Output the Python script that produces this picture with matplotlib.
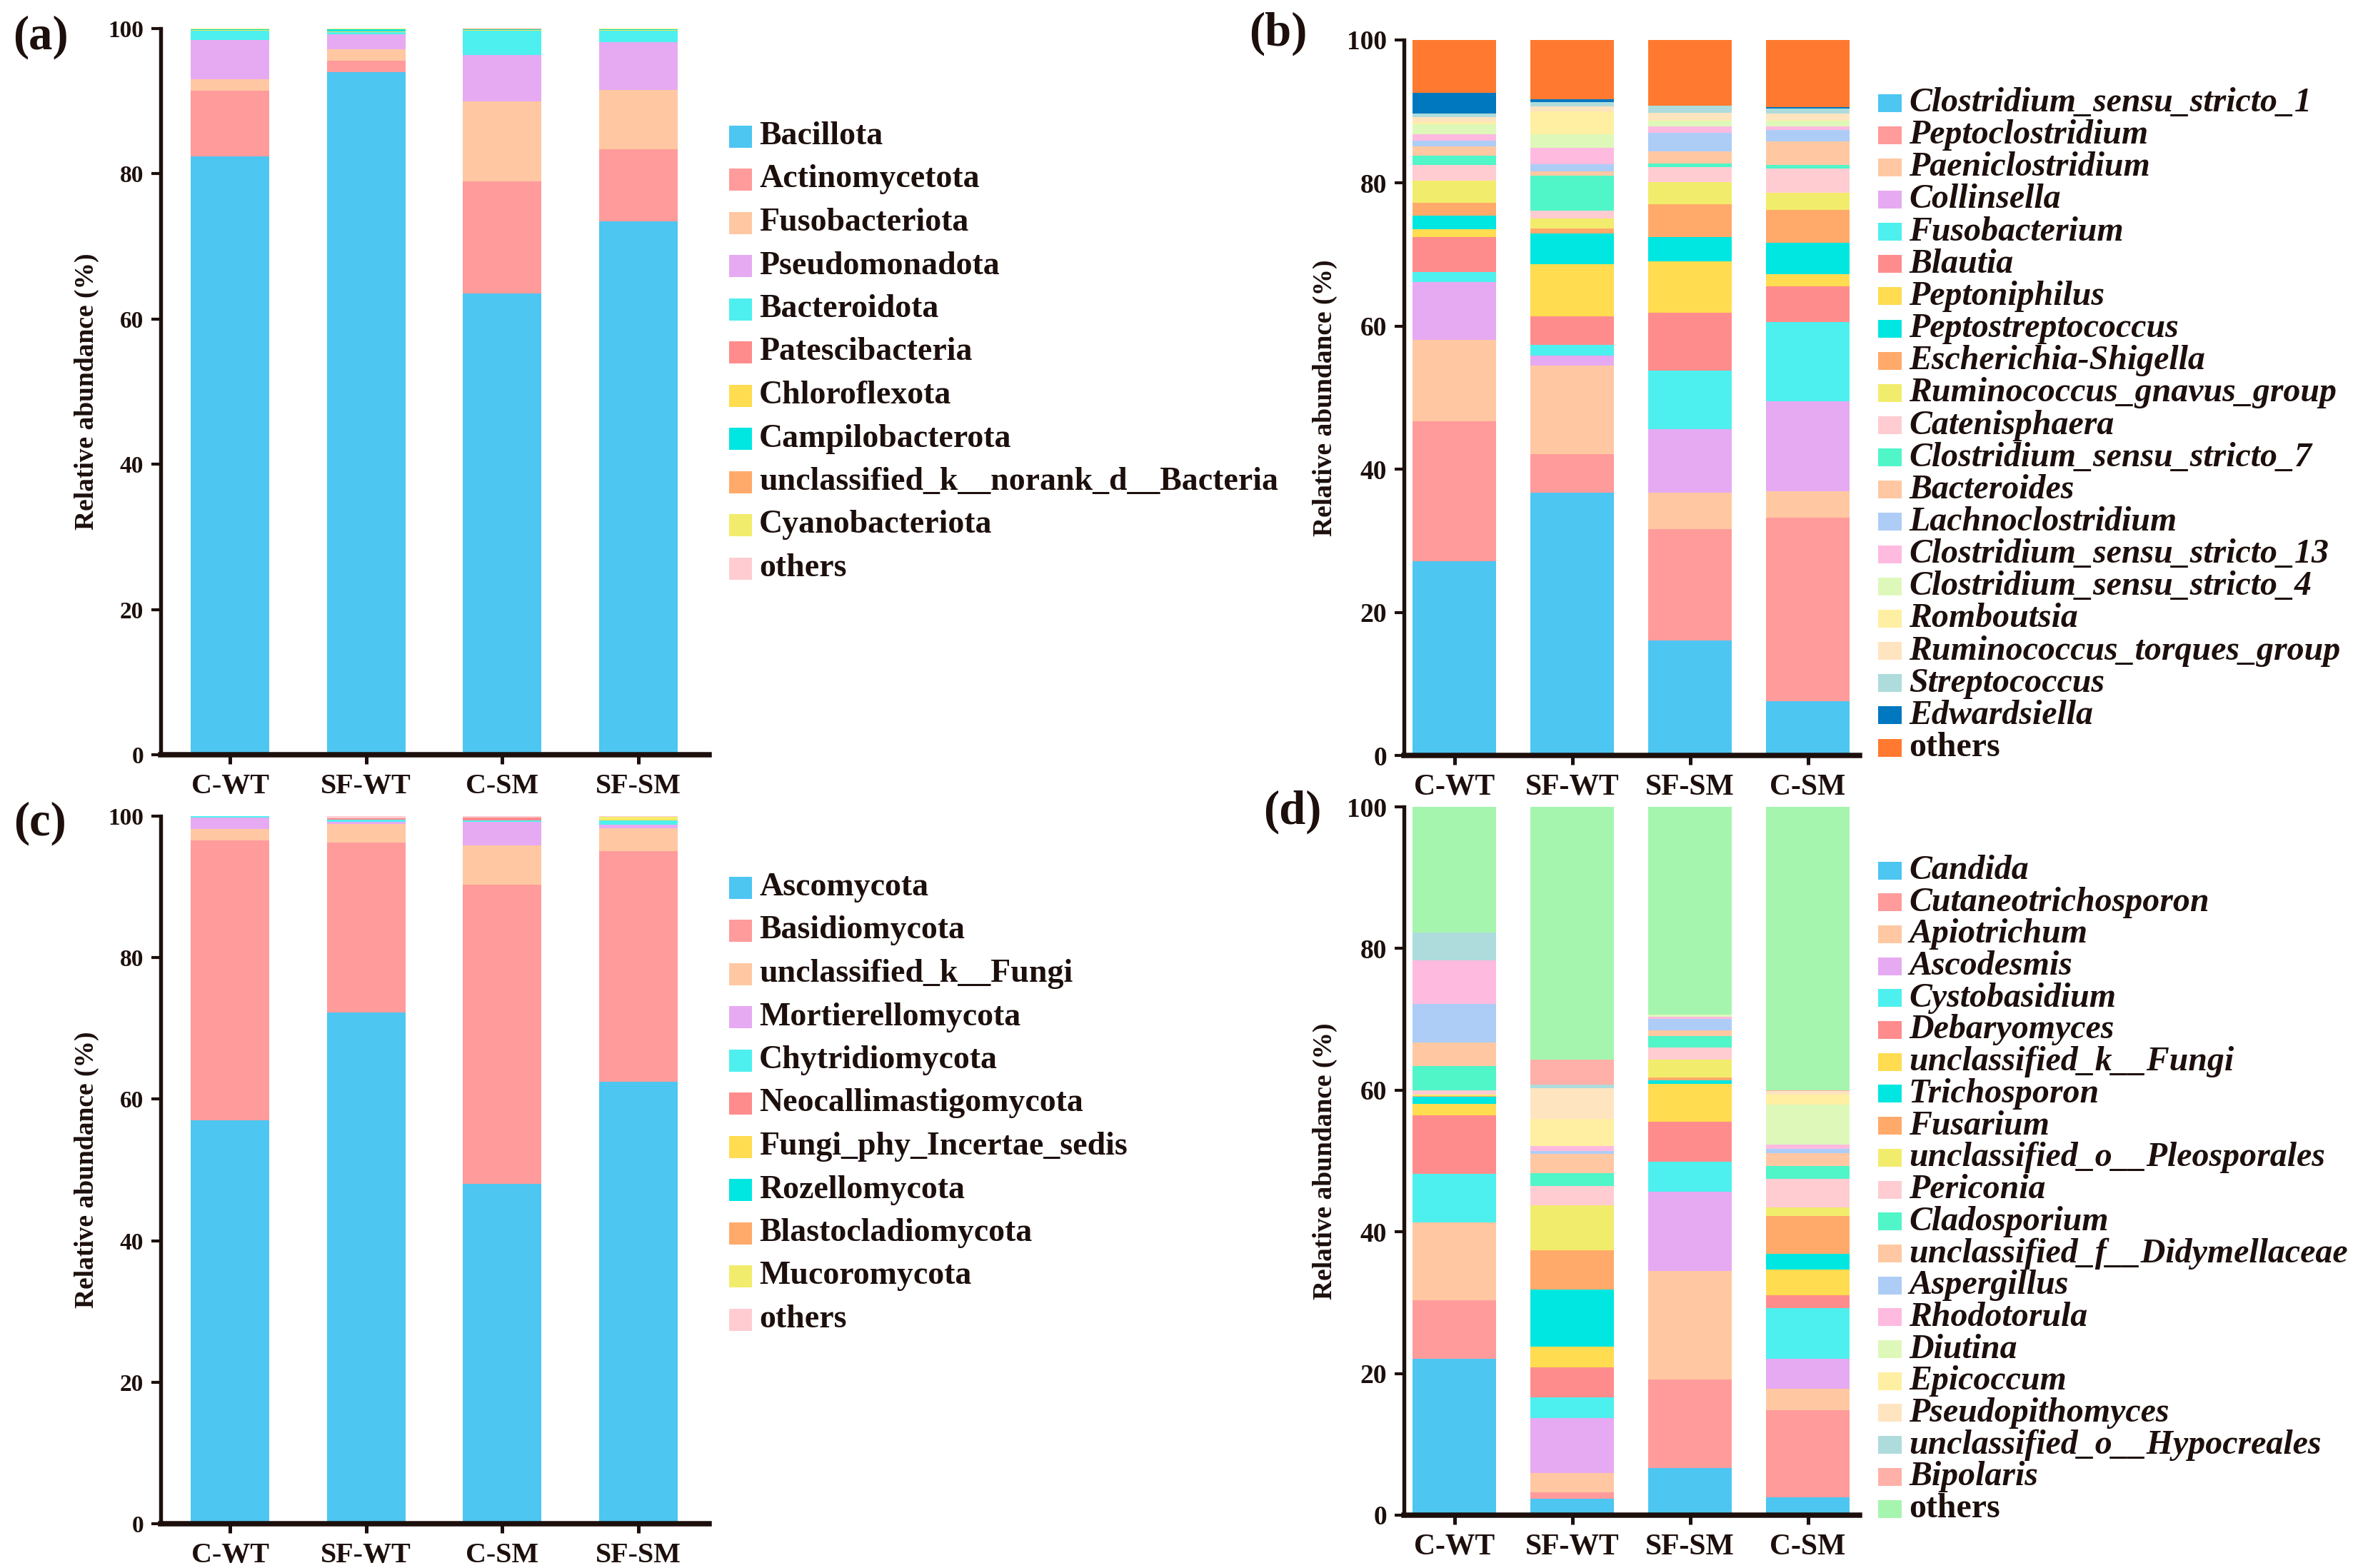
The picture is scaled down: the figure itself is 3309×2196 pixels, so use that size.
import matplotlib
matplotlib.use('Agg')
import matplotlib.pyplot as plt
from matplotlib.patches import Rectangle
import numpy as np

plt.rcParams['font.family'] = ['Liberation Serif', 'DejaVu Serif']
plt.rcParams['font.weight'] = 'bold'

ink = '#1c0f0c'

# ---------------- data ----------------
groups_ac = ['C-WT', 'SF-WT', 'C-SM', 'SF-SM']
groups_bd = ['C-WT', 'SF-WT', 'SF-SM', 'C-SM']

# (a) bacterial phyla
phylum_bac = ['Bacillota', 'Actinomycetota', 'Fusobacteriota', 'Pseudomonadota', 'Bacteroidota',
              'Patescibacteria', 'Chloroflexota', 'Campilobacterota',
              'unclassified_k__norank_d__Bacteria', 'Cyanobacteriota', 'others']
phylum_bac_CWT = [82.4, 9.0, 1.6, 5.4, 1.3, 0.05, 0.05, 0.05, 0.05, 0.05, 0.05]
phylum_bac_SFWT = [94.0, 1.6, 1.5, 2.1, 0.3, 0.05, 0.05, 0.25, 0.05, 0.05, 0.05]
phylum_bac_CSM = [63.5, 15.5, 11.0, 6.4, 3.3, 0.05, 0.05, 0.05, 0.1, 0.0, 0.05]
phylum_bac_SFSM = [73.4, 10.0, 8.1, 6.6, 1.6, 0.05, 0.05, 0.05, 0.0, 0.1, 0.05]

# (b) bacterial genera
genus_bac = ['Clostridium_sensu_stricto_1', 'Peptoclostridium', 'Paeniclostridium', 'Collinsella',
             'Fusobacterium', 'Blautia', 'Peptoniphilus', 'Peptostreptococcus',
             'Escherichia-Shigella', 'Ruminococcus_gnavus_group', 'Catenisphaera',
             'Clostridium_sensu_stricto_7', 'Bacteroides', 'Lachnoclostridium',
             'Clostridium_sensu_stricto_13', 'Clostridium_sensu_stricto_4', 'Romboutsia',
             'Ruminococcus_torques_group', 'Streptococcus', 'Edwardsiella', 'others']
genus_bac_CWT = [27.1, 19.6, 11.4, 8.1, 1.4, 4.9, 1.1, 1.8, 1.8, 3.1, 2.2, 1.3, 1.3, 0.8, 0.9, 1.4, 0.3, 0.7, 0.5, 2.9, 7.4]
genus_bac_SFWT = [36.7, 5.4, 12.4, 1.4, 1.5, 4.0, 7.3, 4.3, 0.7, 1.4, 1.0, 4.9, 0.6, 1.0, 2.3, 1.9, 3.2, 0.7, 0.6, 0.4, 8.3]
genus_bac_SFSM = [16.1, 15.5, 5.1, 8.9, 8.2, 8.1, 7.2, 3.4, 4.5, 3.1, 2.1, 0.5, 1.7, 2.6, 0.9, 0.8, 0.1, 1.0, 1.0, 0.0, 9.2]
genus_bac_CSM = [7.6, 25.6, 3.7, 12.6, 11.1, 5.0, 1.7, 4.4, 4.5, 2.4, 3.4, 0.5, 3.3, 1.6, 0.5, 0.8, 0.1, 0.9, 0.7, 0.2, 9.4]

# (c) fungal phyla
phylum_fun = ['Ascomycota', 'Basidiomycota', 'unclassified_k__Fungi', 'Mortierellomycota',
              'Chytridiomycota', 'Neocallimastigomycota', 'Fungi_phy_Incertae_sedis',
              'Rozellomycota', 'Blastocladiomycota', 'Mucoromycota', 'others']
phylum_fun_CWT = [57.0, 39.6, 1.6, 1.6, 0.2, 0.0, 0.0, 0.0, 0.0, 0.0, 0.0]
phylum_fun_SFWT = [72.3, 24.0, 2.6, 0.3, 0.3, 0.2, 0.0, 0.0, 0.0, 0.0, 0.3]
phylum_fun_CSM = [48.0, 42.3, 5.6, 3.3, 0.2, 0.4, 0.0, 0.0, 0.0, 0.0, 0.2]
phylum_fun_SFSM = [62.5, 32.6, 3.2, 0.5, 0.6, 0.0, 0.1, 0.0, 0.0, 0.4, 0.1]

# (d) fungal genera
genus_fun = ['Candida', 'Cutaneotrichosporon', 'Apiotrichum', 'Ascodesmis', 'Cystobasidium',
             'Debaryomyces', 'unclassified_k__Fungi', 'Trichosporon', 'Fusarium',
             'unclassified_o__Pleosporales', 'Periconia', 'Cladosporium',
             'unclassified_f__Didymellaceae', 'Aspergillus', 'Rhodotorula', 'Diutina',
             'Epicoccum', 'Pseudopithomyces', 'unclassified_o__Hypocreales', 'Bipolaris', 'others']
genus_fun_CWT = [22.1, 8.2, 11.0, 0.0, 6.9, 8.3, 1.6, 1.0, 0.1, 0.2, 0.6, 3.4, 3.3, 5.5, 6.1, 0.0, 0.0, 0.0, 4.0, 0.0, 17.7]
genus_fun_SFWT = [2.3, 0.9, 2.7, 7.8, 2.9, 4.3, 2.9, 8.1, 5.5, 6.4, 2.7, 1.8, 2.7, 0.4, 0.7, 0.0, 3.9, 4.3, 0.5, 3.5, 35.7]
genus_fun_SFSM = [6.7, 12.5, 15.3, 11.2, 4.2, 5.6, 5.4, 0.5, 0.4, 2.5, 1.7, 1.6, 0.9, 1.6, 0.3, 0.3, 0.0, 0.0, 0.0, 0.0, 29.3]
genus_fun_CSM = [2.5, 12.3, 3.0, 4.3, 7.1, 1.9, 3.6, 2.2, 5.3, 1.2, 4.1, 1.8, 1.8, 0.6, 0.6, 5.7, 1.4, 0.5, 0.0, 0.1, 40.0]

# ---------------- colours ----------------
base_colors = ['#4DC6F2', '#FF9B9B', '#FFC8A2', '#E6AAF2', '#4DF0EE', '#FF8C8C', '#FFDC50',
               '#00E6E0', '#FFAA6A', '#F2EC6C', '#FFCCD2', '#50F5C8', '#FFC8A2', '#ADCDF7',
               '#FFBAE0', '#DEF8BA', '#FFEFA2', '#FFE4C0', '#AEDCDC']
colors_phylum = base_colors[:10] + ['#FFCCD2']
colors_bac = base_colors + ['#0078C0', '#FF7A30']
colors_fun = base_colors + ['#FFB0A8', '#A6F5AE']


def stacked(ax, groups, samples, colors, width, xlim, ytick_size, xtick_size):
    x = np.arange(len(groups))
    bottom = np.zeros(len(groups))
    data = np.array(samples).T
    for row, c in zip(data, colors):
        ax.bar(x, row, width, bottom=bottom, color=c, linewidth=0)
        bottom += row
    ax.set_xlim(*xlim)
    ax.set_ylim(0, 100)
    ax.set_xticks(x)
    ax.set_xticklabels(groups, fontsize=xtick_size, fontweight='bold', color=ink)
    ax.set_yticks(range(0, 101, 20))
    ax.tick_params(axis='y', labelsize=ytick_size, length=3.2, width=1.0, color=ink,
                   labelcolor=ink, pad=2.5)
    ax.tick_params(axis='x', length=3.2, width=1.2, color=ink, pad=3)
    for s in ['top', 'right']:
        ax.spines[s].set_visible(False)
    ax.spines['left'].set_linewidth(1.3)
    ax.spines['bottom'].set_linewidth(1.8)
    ax.spines['left'].set_color(ink)
    ax.spines['bottom'].set_color(ink)
    ax.set_ylabel('Relative abundance (%)', fontsize=9, fontweight='bold', color=ink, labelpad=3)


def legend_block(fig, names, colors, box_x, text_x, y_first, dy, box_w, box_h, size, italic):
    W, H = 3309.0, 2196.0
    for i, (n, c) in enumerate(zip(names, colors)):
        yc = y_first + i * dy
        fig.add_artist(Rectangle((box_x / W, 1 - (yc + box_h / 2) / H), box_w / W, box_h / H,
                                 transform=fig.transFigure, color=c, linewidth=0))
        style = 'italic' if (italic and n != 'others') else 'normal'
        fig.text(text_x / W, 1 - yc / H, n, fontsize=size, fontweight='bold', fontstyle=style,
                 color=ink, va='center', ha='left')


fig = plt.figure(figsize=(3309 / 300, 2196 / 300), dpi=300)

ax_a = fig.add_axes([0.068, 0.5187, 0.232, 0.4631])
stacked(ax_a, groups_ac, [phylum_bac_CWT, phylum_bac_SFWT, phylum_bac_CSM, phylum_bac_SFSM],
        colors_phylum, 0.576, (-0.51, 3.52), 8, 9.6)

ax_c = fig.add_axes([0.068, 0.0282, 0.232, 0.4513])
stacked(ax_c, groups_ac, [phylum_fun_CWT, phylum_fun_SFWT, phylum_fun_CSM, phylum_fun_SFSM],
        colors_phylum, 0.576, (-0.51, 3.52), 8, 9.6)

ax_b = fig.add_axes([0.594, 0.5182, 0.193, 0.4563])
stacked(ax_b, groups_bd, [genus_bac_CWT, genus_bac_SFWT, genus_bac_SFSM, genus_bac_CSM],
        colors_bac, 0.71, (-0.43, 3.44), 9, 10)

ax_d = fig.add_axes([0.594, 0.0337, 0.193, 0.4517])
stacked(ax_d, groups_bd, [genus_fun_CWT, genus_fun_SFWT, genus_fun_SFSM, genus_fun_CSM],
        colors_fun, 0.71, (-0.43, 3.44), 9, 10)

legend_block(fig, phylum_bac, colors_phylum, 1021, 1063, 191, 60.5, 32, 31, 11, False)
legend_block(fig, phylum_fun, colors_phylum, 1021, 1063, 1243, 60.5, 32, 31, 11, False)
legend_block(fig, genus_bac, colors_bac, 2630, 2673, 144, 45.15, 33, 25, 11.5, True)
legend_block(fig, genus_fun, colors_fun, 2630, 2673, 1219, 44.7, 33, 25, 11.5, True)

for lab, (px, py) in zip(['(a)', '(b)', '(c)', '(d)'],
                         [(57, 52), (1790, 47), (56, 1153), (1810, 1137)]):
    fig.text(px / 3309, 1 - py / 2196, lab, fontsize=16, fontweight='bold', color=ink,
             ha='center', va='center')

fig.savefig('out.png', dpi=300)
